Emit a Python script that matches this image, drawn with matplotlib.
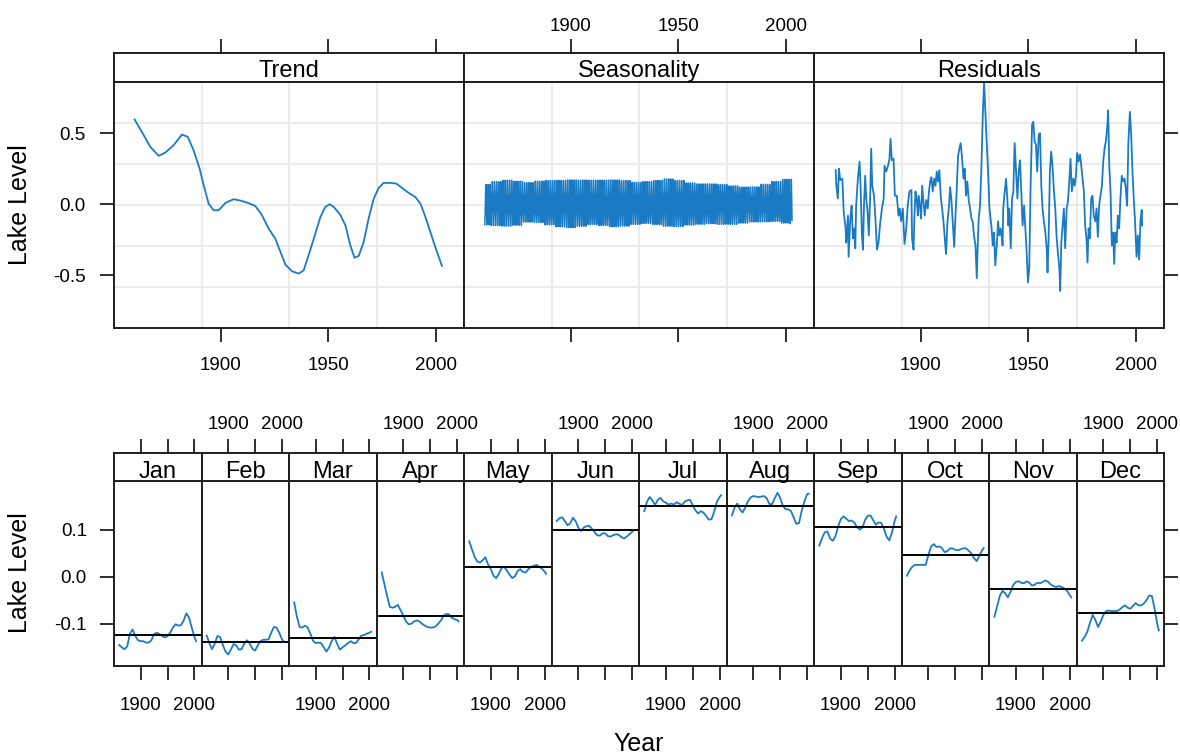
import numpy as np
import matplotlib
matplotlib.use("Agg")
import matplotlib.pyplot as plt

plt.rcParams['font.family'] = ['Liberation Sans', 'DejaVu Sans']
plt.rcParams['axes.unicode_minus'] = False

# ------------------------------------------------------------------ data
panel_titles = ['Trend', 'Seasonality', 'Residuals']
month_names = ['Jan', 'Feb', 'Mar', 'Apr', 'May', 'Jun',
               'Jul', 'Aug', 'Sep', 'Oct', 'Nov', 'Dec']
x_ticks = [1900, 1950, 2000]
x_ticklabels_top = ['1900', '1950', '2000']
x_ticklabels_sub = ['1900', '', '2000']
top_yticks = [-0.5, 0.0, 0.5]
sub_yticks = [-0.1, 0.0, 0.1]

trend = [(1860.0, 0.596), (1864.2, 0.486), (1867.3, 0.403), (1871.2, 0.340),
         (1874.3, 0.364), (1878.1, 0.415), (1882.0, 0.490), (1884.7, 0.474),
         (1887.4, 0.380), (1890.2, 0.251), (1892.1, 0.134), (1894.4, 0.004),
         (1896.7, -0.042), (1899.1, -0.042), (1902.2, 0.009), (1906.0, 0.035),
         (1909.1, 0.026), (1912.2, 0.012), (1916.1, -0.012), (1919.2, -0.077),
         (1922.3, -0.171), (1925.4, -0.242), (1927.8, -0.336), (1930.1, -0.425),
         (1933.2, -0.472), (1936.3, -0.488), (1938.6, -0.465), (1940.9, -0.359),
         (1943.3, -0.242), (1946.4, -0.089), (1948.7, -0.019), (1950.7, 0.000),
         (1952.6, -0.019), (1955.7, -0.077), (1958.0, -0.148), (1960.3, -0.289),
         (1962.2, -0.376), (1964.2, -0.364), (1966.5, -0.265), (1968.8, -0.101),
         (1971.2, 0.040), (1973.5, 0.115), (1975.8, 0.150), (1978.9, 0.150),
         (1981.7, 0.145), (1984.3, 0.115), (1987.4, 0.080), (1990.5, 0.051),
         (1992.9, 0.004), (1995.2, -0.089), (1997.5, -0.195), (1999.8, -0.301),
         (2002.9, -0.434)]

residuals = [
    (1860.4, 0.24), (1860.7, 0.13), (1861.4, 0.04), (1861.9, 0.25), (1862.5, 0.17),
    (1863.5, 0.18), (1864.1, -0.05), (1865.0, -0.17), (1865.3, -0.27), (1866.1, -0.08),
    (1866.4, -0.37), (1867.2, -0.10), (1867.8, -0.01), (1868.4, -0.24), (1869.0, -0.17),
    (1869.5, -0.31), (1869.9, -0.01), (1870.7, 0.18), (1871.5, 0.30), (1872.0, 0.11),
    (1872.6, -0.22), (1873.1, -0.32), (1873.5, -0.03), (1874.1, 0.20), (1874.6, 0.04),
    (1875.2, -0.05), (1875.8, -0.22), (1876.5, 0.09), (1876.9, 0.39), (1877.4, 0.13),
    (1878.2, 0.06), (1878.8, -0.08), (1879.6, -0.32), (1880.3, -0.27), (1881.1, -0.13),
    (1881.9, -0.03), (1882.7, 0.04), (1883.1, 0.27), (1883.9, 0.23), (1884.7, 0.27),
    (1885.4, 0.32), (1885.9, 0.46), (1886.5, 0.31), (1887.3, 0.32), (1887.9, 0.06),
    (1888.8, 0.06), (1889.6, -0.08), (1890.2, -0.03), (1890.8, -0.12), (1891.6, -0.03),
    (1892.4, -0.28), (1893.2, -0.17), (1893.9, -0.01), (1894.7, 0.09), (1895.6, 0.10),
    (1895.9, -0.24), (1896.6, -0.32), (1897.0, -0.08), (1897.5, 0.09), (1898.1, 0.03),
    (1898.6, -0.08), (1899.0, 0.06), (1899.7, -0.03), (1900.1, -0.10), (1900.6, 0.13),
    (1901.2, 0.02), (1901.8, -0.08), (1902.5, 0.03), (1903.2, -0.03), (1903.7, 0.08),
    (1904.3, 0.16), (1904.9, 0.19), (1905.5, 0.09), (1906.2, 0.18), (1906.8, 0.13),
    (1907.4, 0.23), (1908.0, 0.16), (1908.6, 0.24), (1909.3, 0.04), (1909.9, -0.03),
    (1910.5, -0.12), (1911.1, -0.24), (1911.7, -0.35), (1912.4, -0.12), (1913.0, -0.03),
    (1913.6, 0.12), (1914.2, 0.03), (1914.8, -0.12), (1915.5, -0.30), (1916.1, -0.08),
    (1916.7, 0.11), (1917.3, 0.34), (1917.9, 0.39), (1918.5, 0.43), (1919.2, 0.32),
    (1919.8, 0.18), (1920.4, 0.25), (1921.0, 0.06), (1921.6, 0.16), (1922.3, 0.02),
    (1922.9, -0.03), (1923.5, -0.10), (1924.1, -0.12), (1924.7, -0.22), (1925.4, -0.29),
    (1926.0, -0.52), (1926.4, -0.31), (1926.9, -0.10), (1927.5, -0.01), (1928.1, 0.23),
    (1928.8, 0.63), (1929.4, 0.86), (1930.0, 0.65), (1930.6, 0.44), (1931.2, 0.25),
    (1931.9, -0.03), (1932.9, -0.17), (1933.4, -0.29), (1934.0, -0.20), (1934.6, -0.43),
    (1935.3, -0.29), (1935.9, -0.12), (1936.5, -0.22), (1937.1, -0.17), (1937.7, -0.24),
    (1938.0, -0.29), (1938.3, -0.03), (1939.0, 0.09), (1939.6, 0.18), (1940.2, 0.04),
    (1940.7, -0.15), (1941.1, -0.03), (1941.8, -0.31), (1942.4, 0.04), (1943.0, 0.09),
    (1943.6, 0.43), (1944.2, 0.25), (1944.9, 0.04), (1945.5, 0.23), (1946.1, 0.31),
    (1946.7, 0.09), (1947.3, -0.15), (1948.0, -0.01), (1948.6, -0.17), (1949.2, -0.34),
    (1949.8, -0.55), (1950.4, -0.45), (1951.0, 0.11), (1951.7, 0.56), (1952.3, 0.58),
    (1952.9, 0.44), (1953.5, 0.42), (1954.1, 0.23), (1954.8, 0.49), (1955.4, 0.50),
    (1956.0, 0.13), (1956.6, -0.03), (1957.2, -0.12), (1957.9, -0.20), (1958.5, -0.31),
    (1958.9, -0.48), (1959.4, -0.24), (1960.0, 0.23), (1960.6, 0.37), (1961.3, 0.25),
    (1961.9, 0.09), (1962.5, -0.03), (1963.1, -0.22), (1963.7, -0.34), (1964.4, -0.45),
    (1964.8, -0.61), (1965.3, -0.27), (1965.9, -0.15), (1966.5, -0.03), (1967.1, -0.31),
    (1967.8, -0.03), (1968.4, 0.02), (1969.0, 0.16), (1969.6, 0.32), (1970.2, 0.09),
    (1970.9, 0.18), (1971.5, 0.13), (1972.1, 0.20), (1972.7, 0.36), (1973.3, 0.30),
    (1974.0, 0.35), (1974.6, 0.27), (1975.2, 0.18), (1975.8, 0.09), (1976.4, -0.15),
    (1977.0, -0.24), (1977.5, -0.41), (1978.0, -0.17), (1978.6, -0.24), (1979.2, 0.04),
    (1979.8, 0.06), (1980.4, -0.08), (1981.1, -0.12), (1981.7, -0.03), (1982.3, -0.23),
    (1982.9, -0.01), (1983.5, 0.06), (1984.2, 0.13), (1984.8, 0.30), (1985.4, 0.39),
    (1986.0, 0.44), (1986.6, 0.53), (1987.1, 0.66), (1987.6, 0.27), (1988.2, 0.09),
    (1988.8, -0.29), (1989.4, -0.20), (1989.9, -0.42), (1990.4, -0.20), (1991.0, -0.27),
    (1991.6, -0.08), (1992.2, -0.17), (1992.8, 0.04), (1993.4, 0.20), (1994.1, 0.16),
    (1994.7, 0.18), (1995.3, 0.11), (1995.9, -0.01), (1996.5, 0.44), (1997.2, 0.65),
    (1997.8, 0.49), (1998.4, 0.23), (1999.0, 0.04), (1999.6, -0.12), (2000.3, -0.37),
    (2000.9, -0.22), (2001.5, -0.39), (2002.1, -0.12), (2002.7, -0.04), (2002.9, -0.15)]

# monthly sub-series of the seasonal component, read every 5 years
sub_years = [1860, 1865, 1870, 1875, 1880, 1885, 1890, 1895, 1900, 1905,
             1910, 1915, 1920, 1925, 1930, 1935, 1940, 1945, 1950, 1955,
             1960, 1965, 1970, 1975, 1980, 1985, 1990, 1995, 2000, 2003]
sub_jan = [-0.145, -0.150, -0.154, -0.148, -0.121, -0.112, -0.126, -0.135, -0.137, -0.137,
           -0.140, -0.140, -0.135, -0.122, -0.119, -0.122, -0.126, -0.129, -0.126, -0.119,
           -0.108, -0.101, -0.104, -0.103, -0.093, -0.078, -0.087, -0.108, -0.128, -0.137]
sub_feb = [-0.125, -0.141, -0.154, -0.142, -0.126, -0.128, -0.145, -0.159, -0.165, -0.155,
           -0.143, -0.146, -0.155, -0.154, -0.142, -0.135, -0.142, -0.153, -0.157, -0.146,
           -0.137, -0.134, -0.134, -0.133, -0.119, -0.107, -0.108, -0.119, -0.133, -0.137]
sub_mar = [-0.055, -0.085, -0.107, -0.108, -0.104, -0.108, -0.121, -0.136, -0.141, -0.140,
           -0.141, -0.150, -0.159, -0.150, -0.136, -0.128, -0.143, -0.155, -0.150, -0.146,
           -0.141, -0.137, -0.141, -0.141, -0.133, -0.125, -0.124, -0.121, -0.119, -0.117]
sub_apr = [0.009, -0.016, -0.041, -0.064, -0.066, -0.064, -0.060, -0.071, -0.082, -0.095,
           -0.101, -0.100, -0.095, -0.093, -0.095, -0.100, -0.104, -0.107, -0.108, -0.108,
           -0.106, -0.100, -0.093, -0.083, -0.079, -0.080, -0.087, -0.090, -0.092, -0.095]
sub_may = [0.075, 0.058, 0.042, 0.032, 0.030, 0.035, 0.041, 0.026, 0.016, 0.002,
           -0.003, 0.006, 0.018, 0.021, 0.013, 0.004, -0.003, 0.001, 0.012, 0.016,
           0.010, 0.009, 0.016, 0.021, 0.023, 0.025, 0.021, 0.017, 0.011, 0.006]
sub_jun = [0.118, 0.124, 0.126, 0.118, 0.109, 0.113, 0.125, 0.118, 0.104, 0.097,
           0.104, 0.107, 0.108, 0.102, 0.095, 0.088, 0.087, 0.092, 0.092, 0.086,
           0.085, 0.088, 0.090, 0.089, 0.084, 0.081, 0.085, 0.090, 0.095, 0.098]
sub_jul = [0.139, 0.159, 0.169, 0.162, 0.152, 0.163, 0.167, 0.160, 0.157, 0.153,
           0.155, 0.153, 0.158, 0.155, 0.152, 0.159, 0.162, 0.163, 0.152, 0.141,
           0.134, 0.139, 0.136, 0.129, 0.121, 0.122, 0.138, 0.159, 0.169, 0.173]
sub_aug = [0.130, 0.146, 0.155, 0.143, 0.136, 0.147, 0.160, 0.168, 0.171, 0.170,
           0.169, 0.170, 0.171, 0.166, 0.154, 0.154, 0.167, 0.178, 0.167, 0.150,
           0.143, 0.143, 0.139, 0.126, 0.112, 0.114, 0.140, 0.160, 0.175, 0.176]
sub_sep = [0.066, 0.082, 0.094, 0.096, 0.081, 0.076, 0.086, 0.107, 0.122, 0.128,
           0.123, 0.118, 0.119, 0.115, 0.105, 0.100, 0.104, 0.120, 0.129, 0.130,
           0.120, 0.110, 0.115, 0.114, 0.102, 0.085, 0.077, 0.093, 0.118, 0.128]
sub_oct = [0.002, 0.013, 0.021, 0.025, 0.025, 0.025, 0.025, 0.025, 0.046, 0.064,
           0.069, 0.063, 0.064, 0.061, 0.052, 0.054, 0.060, 0.060, 0.057, 0.056,
           0.058, 0.060, 0.060, 0.055, 0.049, 0.039, 0.033, 0.045, 0.056, 0.061]
sub_nov = [-0.085, -0.063, -0.041, -0.030, -0.035, -0.044, -0.032, -0.018, -0.011, -0.010,
           -0.013, -0.014, -0.010, -0.013, -0.019, -0.017, -0.013, -0.014, -0.011, -0.008,
           -0.011, -0.017, -0.020, -0.022, -0.020, -0.022, -0.025, -0.030, -0.039, -0.044]
sub_dec = [-0.136, -0.128, -0.117, -0.098, -0.081, -0.092, -0.107, -0.095, -0.081, -0.073,
           -0.072, -0.073, -0.073, -0.073, -0.070, -0.065, -0.061, -0.066, -0.068, -0.062,
           -0.056, -0.061, -0.061, -0.057, -0.050, -0.040, -0.041, -0.067, -0.100, -0.114]
month_means = [-0.124, -0.139, -0.130, -0.083, 0.021, 0.100,
               0.151, 0.151, 0.106, 0.047, -0.027, -0.078]
seasonal_years = list(range(1860, 2003))

sub_series = [sub_jan, sub_feb, sub_mar, sub_apr, sub_may, sub_jun,
              sub_jul, sub_aug, sub_sep, sub_oct, sub_nov, sub_dec]

trend_years, trend_values = zip(*trend)
resid_years, resid_values = zip(*residuals)

# seasonal component: each month's value taken from its sub-series block
sub_years_arr = np.array(sub_years)
seas_t, seas_v = [], []
for yr in seasonal_years:
    i = int(np.argmin(np.abs(sub_years_arr - yr)))
    for m in range(12):
        seas_t.append(yr + m / 12.0)
        seas_v.append(sub_series[m][i])

# ------------------------------------------------------------------ style
W, H = 1180, 755
BLUE = '#1a7bc4'
FRAME = '#1e1e1e'
GRID = '#e9e9e9'
XLIM = (1850.4, 2013.2)
TOP_YLIM = (-0.873, 0.862)
SUB_YLIM = (-0.189, 0.203)
TICK_LEN = 10
TICK_W = 1.3
FS_TICK = 13.5
FS_STRIP = 17
FS_LAB = 18


def rect(x0, y0, x1, y1):
    return [x0 / W, 1 - y1 / H, (x1 - x0) / W, (y1 - y0) / H]


def style_frame(a):
    for s in a.spines.values():
        s.set_color(FRAME)
        s.set_linewidth(1.4)


fig = plt.figure(figsize=(W / 100, H / 100), dpi=100)

# ------------------------------------------------------------------ top row
L, R = 114.0, 1164.3
pw = (R - L) / 3
top_data = [(trend_years, trend_values), (seas_t, seas_v), (resid_years, resid_values)]
for i in range(3):
    x0, x1 = L + i * pw, L + (i + 1) * pw
    ax = fig.add_axes(rect(x0, 81.7, x1, 328.3))
    st = fig.add_axes(rect(x0, 53.3, x1, 81.7))
    ax.set_xlim(*XLIM)
    ax.set_ylim(*TOP_YLIM)
    st.set_xlim(*XLIM)
    st.set_ylim(0, 1)
    for xv in np.linspace(XLIM[0], XLIM[1], 5)[1:-1]:
        ax.axvline(xv, color=GRID, lw=1.3, zorder=0)
    for yv in np.linspace(TOP_YLIM[0], TOP_YLIM[1], 7)[1:-1]:
        ax.axhline(yv, color=GRID, lw=1.3, zorder=0)
    xs, ys = top_data[i]
    ax.plot(xs, ys, color=BLUE, lw=1.3 if i != 1 else 1.0, zorder=3)

    ax.set_xticks(x_ticks)
    ax.set_xticklabels(x_ticklabels_top)
    ax.tick_params(axis='x', direction='out', length=TICK_LEN, width=TICK_W,
                   color=FRAME, labelsize=FS_TICK, pad=10.5,
                   bottom=True, top=False, labelbottom=(i % 2 == 0), labeltop=False)
    ax.set_yticks(top_yticks)
    ax.set_yticklabels(['-0.5', '0.0', '0.5'])
    ax.tick_params(axis='y', direction='out', length=TICK_LEN, width=TICK_W,
                   color=FRAME, labelsize=FS_TICK, pad=10.5,
                   left=(i == 0), right=(i == 2), labelleft=(i == 0), labelright=False)
    style_frame(ax)

    st.set_xticks(x_ticks)
    st.set_xticklabels(x_ticklabels_top)
    st.set_yticks([])
    st.tick_params(axis='x', direction='out', length=TICK_LEN, width=TICK_W,
                   color=FRAME, labelsize=FS_TICK, pad=3.5,
                   bottom=False, top=True, labelbottom=False, labeltop=(i % 2 == 1))
    st.text(0.5, 0.15, panel_titles[i], transform=st.transAxes,
            ha='center', va='baseline', fontsize=FS_STRIP)
    style_frame(st)

# ------------------------------------------------------------------ bottom row
sw = (R - L) / 12
for k in range(12):
    x0, x1 = L + k * sw, L + (k + 1) * sw
    ax = fig.add_axes(rect(x0, 481.0, x1, 665.7))
    st = fig.add_axes(rect(x0, 453.3, x1, 481.0))
    ax.set_xlim(*XLIM)
    ax.set_ylim(*SUB_YLIM)
    st.set_xlim(*XLIM)
    st.set_ylim(0, 1)
    ax.plot(sub_years, sub_series[k], color=BLUE, lw=1.3, zorder=3)
    ax.axhline(month_means[k], color='black', lw=1.4, zorder=4)

    ax.set_xticks(x_ticks)
    ax.set_xticklabels(x_ticklabels_sub)
    ax.tick_params(axis='x', direction='out', length=TICK_LEN, width=TICK_W,
                   color=FRAME, labelsize=FS_TICK, pad=12.5,
                   bottom=True, top=False, labelbottom=(k % 2 == 0), labeltop=False)
    ax.set_yticks(sub_yticks)
    ax.set_yticklabels(['-0.1', '0.0', '0.1'])
    ax.tick_params(axis='y', direction='out', length=TICK_LEN, width=TICK_W,
                   color=FRAME, labelsize=FS_TICK, pad=9.5,
                   left=(k == 0), right=(k == 11), labelleft=(k == 0), labelright=False)
    style_frame(ax)

    st.set_xticks(x_ticks)
    st.set_xticklabels(x_ticklabels_sub)
    st.set_yticks([])
    st.tick_params(axis='x', direction='out', length=TICK_LEN, width=TICK_W,
                   color=FRAME, labelsize=FS_TICK, pad=4.5,
                   bottom=False, top=True, labelbottom=False, labeltop=(k % 2 == 1))
    st.text(0.5, 0.1, month_names[k], transform=st.transAxes,
            ha='center', va='baseline', fontsize=FS_STRIP)
    style_frame(st)

# ------------------------------------------------------------------ labels
fig.text(20 / W, 1 - 205 / H, 'Lake Level', rotation=90, ha='center', va='center',
         fontsize=FS_LAB)
fig.text(20 / W, 1 - 573 / H, 'Lake Level', rotation=90, ha='center', va='center',
         fontsize=FS_LAB)
fig.text(639 / W, 1 - 744 / H, 'Year', ha='center', va='center', fontsize=FS_LAB)

fig.savefig('out.png', dpi=100)
